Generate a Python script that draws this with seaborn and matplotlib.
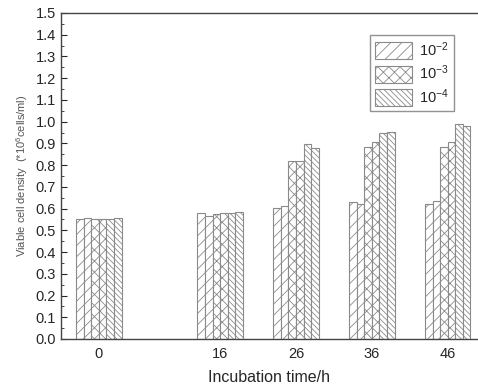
import matplotlib
matplotlib.use('Agg')
import matplotlib.pyplot as plt
from matplotlib.patches import Patch
from matplotlib.ticker import MultipleLocator
import seaborn as sns
import pandas as pd

# incubation times (h) and the three dilutions, two replicate bars each
times = [0, 16, 26, 36, 46]
dilutions = ['10$^{-2}$', '10$^{-3}$', '10$^{-4}$']
d2_a = [0.550, 0.578, 0.605, 0.631, 0.620]
d2_b = [0.555, 0.565, 0.610, 0.622, 0.635]
d3_a = [0.550, 0.575, 0.820, 0.885, 0.885]
d3_b = [0.550, 0.580, 0.820, 0.908, 0.905]
d4_a = [0.550, 0.580, 0.898, 0.949, 0.990]
d4_b = [0.555, 0.585, 0.880, 0.954, 0.980]

series = [('d2a', d2_a), ('d2b', d2_b), ('d3a', d3_a),
          ('d3b', d3_b), ('d4a', d4_a), ('d4b', d4_b)]
rows = []
for name, vals in series:
    for t, v in zip(times, vals):
        rows.append({'time': t, 'bar': name, 'density': v})
df = pd.DataFrame(rows)

sns.set_style('ticks')
plt.rcParams['font.family'] = ['Liberation Sans', 'DejaVu Sans']
plt.rcParams['mathtext.fontset'] = 'custom'
plt.rcParams['mathtext.rm'] = 'Liberation Sans'
plt.rcParams['mathtext.it'] = 'Liberation Sans'
plt.rcParams['hatch.linewidth'] = 0.6
plt.rcParams['xtick.direction'] = 'in'
plt.rcParams['ytick.direction'] = 'in'

fig = plt.figure(figsize=(4.78, 3.91), dpi=100)
ax = fig.add_axes([0.1276, 0.133, 0.8724, 0.8338])

sns.barplot(data=df, x='time', y='density', hue='bar', native_scale=True,
            width=0.6, gap=0, palette=['white'] * 6,
            edgecolor='#8a8a8a', linewidth=0.8, legend=False, ax=ax)

edge = '#8a8a8a'
h2, h3, h4 = '///', 'xxx', '\\\\\\\\\\\\'
hatches = [h2, h2, h3, h3, h4, h4]
for cont, h in zip(ax.containers, hatches):
    for p in cont:
        p.set_hatch(h)
        p.set_edgecolor(edge)

ax.set_xlim(-5, 50)
ax.set_ylim(0, 1.5)
ax.set_xticks(times)
ax.set_xticklabels([str(t) for t in times])
ax.yaxis.set_major_locator(MultipleLocator(0.1))
ax.yaxis.set_minor_locator(MultipleLocator(0.05))
ax.tick_params(axis='y', which='major', length=4, width=0.8, labelsize=10.5)
ax.tick_params(axis='y', which='minor', length=2, width=0.6)
ax.tick_params(axis='x', length=0, labelsize=10.5, pad=6)
for s in ['left', 'bottom', 'top']:
    ax.spines[s].set_linewidth(1.0)
    ax.spines[s].set_color('#444444')
ax.spines['right'].set_visible(False)

ax.set_xlabel('Incubation time/h', fontsize=11.5, labelpad=6)
ax.set_ylabel('Viable cell density  (*10$^6$cells/ml)', fontsize=8, color='#555555', labelpad=4)

handles = [Patch(facecolor='white', edgecolor=edge, hatch=h, linewidth=0.8)
           for h in [h2, h3, h4]]
ax.legend(handles, dilutions, loc='upper right', bbox_to_anchor=(0.96, 0.955),
          fontsize=10.5, handlelength=2.5, handleheight=1.4, frameon=True,
          fancybox=False, edgecolor='#777777', borderpad=0.35, labelspacing=0.3,
          handletextpad=0.5)

fig.savefig('out.png', dpi=100)
